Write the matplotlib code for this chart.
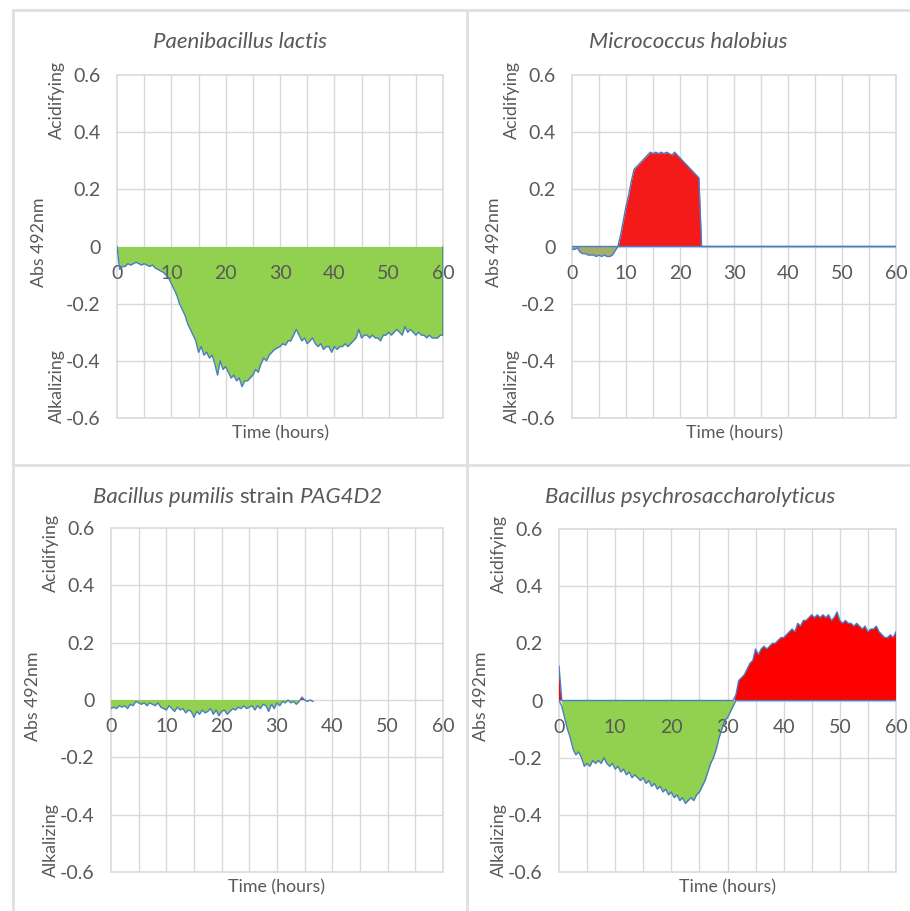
import numpy as np
import matplotlib
matplotlib.use("Agg")
import matplotlib.pyplot as plt
from matplotlib.lines import Line2D

plt.rcParams['font.family'] = ['Lato', 'DejaVu Sans']

W, H = 910, 911
STEP = 0.5  # sampling interval of the plate reader, hours

# --- Abs 492nm readings, one value every 0.5 h (rows = 5 h) ---
LACTIS = [
    0.0, -0.08, -0.07, -0.07, -0.06, -0.065, -0.06, -0.055, -0.06, -0.065,
    -0.06, -0.065, -0.07, -0.065, -0.075, -0.08, -0.085, -0.09, -0.10, -0.11,
    -0.13, -0.15, -0.17, -0.20, -0.22, -0.24, -0.27, -0.29, -0.31, -0.33,
    -0.37, -0.35, -0.38, -0.37, -0.39, -0.38, -0.41, -0.45, -0.40, -0.43,
    -0.42, -0.44, -0.46, -0.45, -0.47, -0.46, -0.49, -0.47, -0.47, -0.46,
    -0.45, -0.43, -0.44, -0.41, -0.39, -0.40, -0.38, -0.37, -0.36, -0.355,
    -0.35, -0.34, -0.345, -0.33, -0.33, -0.31, -0.29, -0.31, -0.33, -0.32,
    -0.34, -0.33, -0.32, -0.34, -0.35, -0.34, -0.36, -0.35, -0.35, -0.37,
    -0.35, -0.36, -0.35, -0.35, -0.34, -0.35, -0.34, -0.33, -0.32, -0.29,
    -0.32, -0.31, -0.31, -0.32, -0.31, -0.32, -0.32, -0.33, -0.31, -0.31,
    -0.30, -0.31, -0.30, -0.29, -0.30, -0.31, -0.28, -0.30, -0.29, -0.30,
    -0.31, -0.30, -0.31, -0.31, -0.32, -0.31, -0.32, -0.32, -0.32, -0.31,
    -0.31,
]

HALOBIUS = [
    -0.01, -0.01, -0.005, -0.02, -0.025, -0.025, -0.03, -0.03, -0.03, -0.035,
    -0.03, -0.035, -0.03, -0.035, -0.035, -0.03, -0.015, 0.0, 0.04, 0.09,
    0.14, 0.18, 0.23, 0.27, 0.28, 0.29, 0.30, 0.31, 0.32, 0.33,
    0.325, 0.33, 0.325, 0.33, 0.325, 0.33, 0.325, 0.32, 0.33, 0.32,
    0.31, 0.30, 0.29, 0.28, 0.27, 0.26, 0.25, 0.24, 0.0, 0.0,
    0.0, 0.0, 0.0, 0.0, 0.0, 0.0, 0.0, 0.0, 0.0, 0.0,
    0.0, 0.0, 0.0, 0.0, 0.0, 0.0, 0.0, 0.0, 0.0, 0.0,
    0.0, 0.0, 0.0, 0.0, 0.0, 0.0, 0.0, 0.0, 0.0, 0.0,
    0.0, 0.0, 0.0, 0.0, 0.0, 0.0, 0.0, 0.0, 0.0, 0.0,
    0.0, 0.0, 0.0, 0.0, 0.0, 0.0, 0.0, 0.0, 0.0, 0.0,
    0.0, 0.0, 0.0, 0.0, 0.0, 0.0, 0.0, 0.0, 0.0, 0.0,
    0.0, 0.0, 0.0, 0.0, 0.0, 0.0, 0.0, 0.0, 0.0, 0.0,
    0.0,
]

PUMILIS = [
    -0.03, -0.025, -0.03, -0.02, -0.025, -0.02, -0.03, -0.015, -0.02, -0.005,
    -0.01, -0.015, -0.01, -0.02, -0.01, -0.015, -0.02, -0.01, -0.025, -0.03,
    -0.035, -0.02, -0.03, -0.04, -0.025, -0.035, -0.03, -0.045, -0.035, -0.04,
    -0.06, -0.04, -0.05, -0.035, -0.045, -0.04, -0.03, -0.05, -0.035, -0.055,
    -0.04, -0.035, -0.05, -0.04, -0.03, -0.035, -0.025, -0.03, -0.02, -0.03,
    -0.025, -0.02, -0.035, -0.02, -0.03, -0.015, -0.02, -0.04, -0.015, -0.03,
    -0.01, -0.02, -0.005, -0.01, 0.0, -0.01, -0.005, -0.015, -0.005, 0.01,
    0.0, -0.005, 0.0, -0.005,
]

PSYCHRO = [
    0.12, -0.02, -0.06, -0.10, -0.13, -0.17, -0.19, -0.18, -0.20, -0.23,
    -0.22, -0.23, -0.21, -0.22, -0.21, -0.22, -0.20, -0.22, -0.23, -0.22,
    -0.24, -0.23, -0.25, -0.24, -0.26, -0.25, -0.27, -0.26, -0.27, -0.28,
    -0.27, -0.29, -0.28, -0.30, -0.29, -0.31, -0.30, -0.32, -0.31, -0.33,
    -0.32, -0.34, -0.33, -0.35, -0.34, -0.36, -0.35, -0.34, -0.35, -0.33,
    -0.32, -0.30, -0.28, -0.25, -0.22, -0.20, -0.17, -0.13, -0.10, -0.07,
    -0.06, -0.04, -0.02, 0.02, 0.07, 0.08, 0.09, 0.11, 0.13, 0.14,
    0.18, 0.16, 0.18, 0.19, 0.18, 0.19, 0.20, 0.20, 0.21, 0.22,
    0.22, 0.23, 0.24, 0.25, 0.24, 0.27, 0.26, 0.28, 0.28, 0.29,
    0.30, 0.29, 0.30, 0.29, 0.30, 0.29, 0.30, 0.28, 0.29, 0.31,
    0.28, 0.27, 0.28, 0.27, 0.27, 0.26, 0.27, 0.26, 0.25, 0.26,
    0.24, 0.25, 0.25, 0.26, 0.24, 0.23, 0.22, 0.22, 0.23, 0.22,
    0.24,
]

X_TICKS = [0, 10, 20, 30, 40, 50, 60]
X_GRID = [5, 10, 15, 20, 25, 30, 35, 40, 45, 50, 55]
Y_TICKS = [-0.6, -0.4, -0.2, 0, 0.2, 0.4, 0.6]
Y_GRID = [-0.4, -0.2, 0, 0.2, 0.4]
Y_TICK_LABELS = ["-0.6", "-0.4", "-0.2", "0", "0.2", "0.4", "0.6"]

GREEN = "#92d050"
OLIVE = "#a6ac6c"
RED = "#ff0000"
RED2 = "#f41a1a"
BLUE = "#4a7cc4"
GRID = "#d9d9d9"
TXT = "#595959"

# plot areas in pixels: left, top, right, bottom
BOXES = [(117, 75, 443, 418), (572, 75, 896, 418),
         (111, 528, 443, 872), (559, 529, 896, 872)]
TITLE_POS = [(240, 42), (688, 42), (238, 497), (690, 497)]

# (data, negative fill, positive fill, separate +/- outlines, close right edge)
PANELS = [
    (LACTIS, GREEN, RED, False, True),
    (HALOBIUS, OLIVE, RED2, True, False),
    (PUMILIS, GREEN, RED, False, False),
    (PSYCHRO, GREEN, RED, True, False),
]

# title pieces: (text, italic)
TITLES = [
    [("Paenibacillus lactis", True)],
    [("Micrococcus halobius", True)],
    [("Bacillus pumilis", True), (" strain ", False), ("PAG4D2", True)],
    [("Bacillus psychrosaccharolyticus", True)],
]

TITLE_SIZE = 16
TICK_SIZE = 14
LABEL_SIZE = 12.8


def fx(px):
    return px / W


def fy(py):
    return 1 - py / H


def draw_title(fig, pieces, cx, cy, size=TITLE_SIZE):
    r = fig.canvas.get_renderer()
    probe = fig.text(0, 0, "a a", fontsize=size)
    probe2 = fig.text(0, 0, "aa", fontsize=size)
    sp = probe.get_window_extent(r).width - probe2.get_window_extent(r).width
    probe.remove()
    probe2.remove()
    placed = []
    for s, it in pieces:
        core = s.strip()
        t = fig.text(0, fy(cy), core, fontsize=size, color=TXT, va="center",
                     style="italic" if it else "normal")
        lead = sp * (len(s) - len(s.lstrip()))
        trail = sp * (len(s) - len(s.rstrip()))
        w = t.get_window_extent(r).width
        placed.append((t, lead, w, trail))
    total = sum(lead + w + trail for _, lead, w, trail in placed)
    x = cx - total / 2
    for t, lead, w, trail in placed:
        t.set_x(fx(x + lead))
        x += lead + w + trail


def draw_panel(fig, box, vals, neg_c, pos_c, split, close_right):
    l, t, r, b = box
    ax = fig.add_axes([fx(l), fy(b), (r - l) / W, (b - t) / H])
    y = np.array(vals)
    x = np.arange(len(y)) * STEP

    # gridlines under the areas, tick labels above them
    for v in X_GRID:
        ax.axvline(v, color=GRID, lw=1, zorder=0.5)
    for v in Y_GRID:
        ax.axhline(v, color=GRID, lw=1, zorder=0.5)

    ax.fill_between(x, y, 0, where=y <= 0, interpolate=True, color=neg_c, lw=0, zorder=1)
    ax.fill_between(x, y, 0, where=y >= 0, interpolate=True, color=pos_c, lw=0, zorder=1)
    if split:
        ax.plot(x, np.minimum(y, 0), color=BLUE, lw=1, zorder=3)
        ax.plot(x, np.maximum(y, 0), color=BLUE, lw=1, zorder=3)
    else:
        ax.plot(x, y, color=BLUE, lw=1, zorder=3)
    if close_right:
        ax.plot([x[-1], x[-1]], [y[-1], 0], color=BLUE, lw=1.2, zorder=3)

    ax.set_xlim(0, 60)
    ax.set_ylim(-0.6, 0.6)
    ax.set_xticks(X_TICKS)
    ax.set_yticks(Y_TICKS)
    ax.set_yticklabels(Y_TICK_LABELS)
    for side in ["top", "right", "left"]:
        ax.spines[side].set_visible(False)
    ax.spines["bottom"].set_position(("data", 0))
    ax.spines["bottom"].set_visible(False)
    ax.patch.set_edgecolor(GRID)
    ax.patch.set_linewidth(1.2)
    ax.tick_params(axis="both", which="both", length=0, labelsize=TICK_SIZE, labelcolor=TXT)
    ax.tick_params(axis="x", pad=13)
    ax.tick_params(axis="y", pad=12)

    zero_y = (t + b) / 2
    fig.text(fx(l - 78), fy(zero_y - 4), "Abs 492nm", rotation=90, ha="center",
             va="center", fontsize=LABEL_SIZE, color=TXT)
    fig.text(fx(l - 60), fy(t + 25), "Acidifying", rotation=90, ha="center",
             va="center", fontsize=LABEL_SIZE, color=TXT)
    fig.text(fx(l - 60), fy(b - 32), "Alkalizing", rotation=90, ha="center",
             va="center", fontsize=LABEL_SIZE, color=TXT)
    fig.text(fx((l + r) / 2), fy(b + 15), "Time (hours)", ha="center",
             va="center", fontsize=LABEL_SIZE, color=TXT)
    return ax


fig = plt.figure(figsize=(W / 100, H / 100), dpi=100)

# light grey frames between the four charts
for xs, ys in [([13, 910], [10, 10]), ([13, 13], [10, 911]),
               ([467, 467], [10, 911]), ([13, 910], [465, 465])]:
    fig.add_artist(Line2D([fx(v) for v in xs], [fy(v) for v in ys],
                          color="#e0e0e0", lw=2))

for box, (vals, nc, pc, split, close), pos, title in zip(BOXES, PANELS, TITLE_POS, TITLES):
    draw_panel(fig, box, vals, nc, pc, split, close)
    draw_title(fig, title, pos[0], pos[1])

fig.savefig("out.png", dpi=100)
